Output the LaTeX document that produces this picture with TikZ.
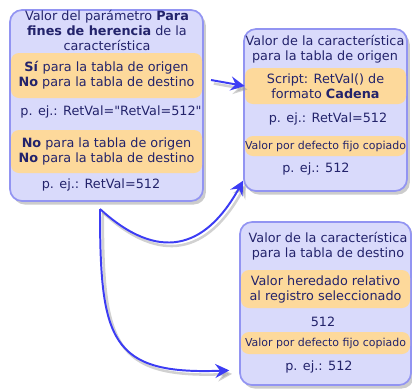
\documentclass[tikz,border=0pt]{standalone}
\usepackage{fontspec}
\setmainfont{DejaVu Sans}
\usetikzlibrary{arrows.meta,fit,shadows}
\definecolor{boxfill}{HTML}{D9DAFB}
\definecolor{boxline}{HTML}{9294F2}
\definecolor{bandfill}{HTML}{FDD99B}
\definecolor{textblue}{HTML}{23236B}
\definecolor{linkblue}{HTML}{3C3CF4}
\newcommand\straightquote{\XeTeXglyph\XeTeXglyphindex "quotedbl"\relax}
\begin{document}
\begin{tikzpicture}[x=0.025cm,y=-0.025cm,
    box/.style={draw=boxline,line width=1.2pt,fill=boxfill,rounded corners=0.3cm,inner sep=0pt,
      drop shadow={shadow xshift=2pt,shadow yshift=-2.5pt,opacity=.4}},
    band/.style={fill=bandfill,rounded corners=0.2cm,inner sep=0pt},
    label/.style={text=textblue,font=\fontsize{9.1}{10.7}\selectfont,align=center,inner sep=0pt},
    smalllabel/.style={label,font=\fontsize{7.8}{9}\selectfont},
    link/.style={draw=linkblue,line width=1.4pt,-{Stealth[length=10pt,width=10pt,inset=3.5pt]},
      preaction={draw=black!40,opacity=.45,line width=1.8pt,transform canvas={xshift=2pt,yshift=-2.5pt}}}]
    \useasboundingbox (0,0) rectangle (412,391);
    %% Parameter box
    \node[box,fit={(10,10) (203,201)}] (param) {};
    \node[band,fit={(11,53) (202,98)}] (paramSi) {};
    \node[band,fit={(11,130) (202,173)}] (paramNo) {};
    \node[label] (paramTitle) at (107,30.5) {Valor del parámetro \textbf{Para}\\\textbf{fines de herencia} de la\\característica};
    \node[label] (paramSiText) at (paramSi.center) {\textbf{Sí} para la tabla de origen\\\textbf{No} para la tabla de destino};
    \node[label] (paramEjA) at (111,112) {p. ej.: RetVal=\straightquote RetVal=512\straightquote};
    \node[label] (paramNoText) at (paramNo.center) {\textbf{No} para la tabla de origen\\\textbf{No} para la tabla de destino};
    \node[label] (paramEjB) at (101,185) {p. ej.: RetVal=512};
    %% Source table box
    \node[box,fit={(244,29) (407,191)}] (origen) {};
    \node[band,fit={(245,68) (406,104)}] (origenScript) {};
    \node[band,fit={(245,136) (406,156)}] (origenFijo) {};
    \node[label] (origenTitle) at (325,49.5) {Valor de la característica\\para la tabla de origen};
    \node[label] (origenScriptText) at (origenScript.center) {Script: RetVal() de\\formato \textbf{Cadena}};
    \node[label] (origenEjA) at (328,119) {p. ej.: RetVal=512};
    \node[smalllabel] (origenFijoText) at (origenFijo.center) {Valor por defecto fijo copiado};
    \node[label] (origenEjB) at (316,169) {p. ej.: 512};
    %% Target table box
    \node[box,fit={(240,222) (411,385)}] (destino) {};
    \node[band,fit={(241,270) (410,308)}] (destinoHered) {};
    \node[band,fit={(241,332) (410,354)}] (destinoFijo) {};
    \node[label] (destinoTitle) at (328,246.5) {Valor de la característica\\para la tabla de destino};
    \node[label] (destinoHeredText) at (destinoHered.center) {Valor heredado relativo\\al registro seleccionado};
    \node[label] (destinoVal) at (323,322) {512};
    \node[smalllabel] (destinoFijoText) at (destinoFijo.center) {Valor por defecto fijo copiado};
    \node[label] (destinoEj) at (319,367) {p. ej.: 512};
    %% Arrows
    \coordinate (tail) at (211,80);
    \coordinate (fork) at (100,209);
    \draw[link] (tail) -- (origenScript.west);
    \draw[link] (fork) .. controls (158,262) and (205,250) .. ([yshift=8pt]origen.south west);
    \draw[link] (fork) .. controls (100,340) and (110,375) .. ([shift={(-7pt,11pt)}]destino.south west);
\end{tikzpicture}
\end{document}
